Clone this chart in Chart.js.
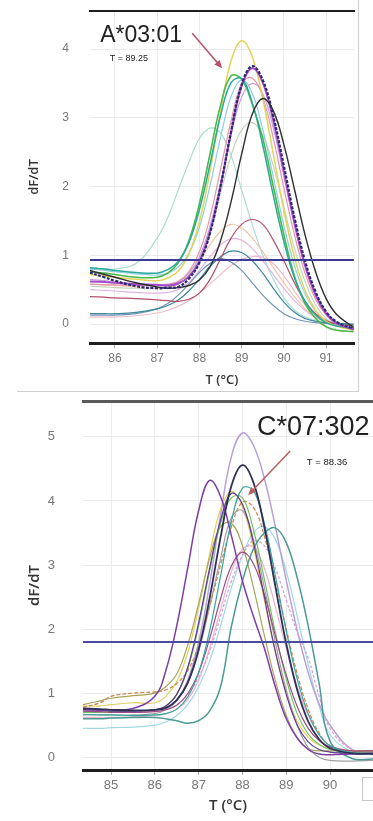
<!DOCTYPE html>
<html>
<head>
<meta charset="utf-8">
<script src="https://cdn.jsdelivr.net/npm/chart.js@4"></script>
<style>
  html, body { margin: 0; padding: 0; background: #fff; }
  body { width: 373px; height: 821px; position: relative; overflow: hidden; }
  .frame { position: absolute; left: 17px; top: 0; width: 341px; height: 391px;
           border-right: 1px solid #cfcfcf; border-bottom: 1px solid #cfcfcf; }
  #c1 { position: absolute; left: 0; top: 0; }
  #c2 { position: absolute; left: 0; top: 395px; }
  .stub { position: absolute; left: 362px; top: 777px; width: 14px; height: 22px;
          border: 1px solid #c8c8c8; background: #fff; }
</style>
</head>
<body>
<div class="frame"></div>
<canvas id="c1" width="358" height="392"></canvas>
<canvas id="c2" width="373" height="426"></canvas>
<div class="stub"></div>
<script>
// ---- A*03:01 panel (T in °C, dF/dT) ----
const tempA = [85.4, 85.75, 86, 86.5, 87, 87.25, 87.5, 87.75, 88, 88.25, 88.5, 88.75, 89, 89.25, 89.5, 89.75, 90, 90.25, 90.5, 90.75, 91, 91.25, 91.65];
const a_yellow   = [0.72,0.70,0.68,0.65,0.63,0.67,0.77,1.02,1.49,2.22,3.09,3.83,4.12,3.89,3.28,2.47,1.65,0.97,0.49,0.20,0.04,-0.03,-0.09];
const a_green    = [0.76,0.74,0.72,0.68,0.68,0.74,0.89,1.21,1.75,2.47,3.18,3.61,3.56,3.20,2.70,2.00,1.30,0.70,0.30,0.08,-0.04,-0.09,-0.11];
const a_teal     = [0.82,0.80,0.78,0.75,0.74,0.79,0.91,1.18,1.66,2.32,3.03,3.51,3.57,3.22,2.60,1.87,1.20,0.67,0.33,0.13,0.02,-0.03,-0.06];
const a_ltblue   = [0.80,0.78,0.76,0.73,0.71,0.74,0.83,1.02,1.41,2.01,2.71,3.31,3.55,3.36,2.83,2.14,1.43,0.85,0.44,0.19,0.05,-0.01,-0.05];
const a_purple   = [0.62,0.61,0.60,0.58,0.57,0.56,0.59,0.69,0.91,1.34,2.00,2.79,3.46,3.72,3.51,2.96,2.22,1.47,0.85,0.42,0.15,0.01,-0.08];
const a_navy     = [0.75,0.68,0.63,0.55,0.52,0.53,0.54,0.66,0.89,1.32,2.00,2.80,3.48,3.75,3.55,3.02,2.30,1.55,0.92,0.47,0.18,0.03,-0.07];
const a_pink     = [0.58,0.57,0.57,0.56,0.56,0.57,0.62,0.76,1.05,1.55,2.25,2.95,3.50,3.58,3.30,2.70,1.98,1.30,0.74,0.36,0.13,0.00,-0.08];
const a_ltpurple = [0.65,0.63,0.61,0.58,0.57,0.58,0.62,0.74,0.98,1.42,2.05,2.75,3.30,3.50,3.35,2.85,2.15,1.45,0.86,0.45,0.18,0.03,-0.06];
const a_black    = [0.78,0.72,0.68,0.60,0.54,0.52,0.53,0.56,0.64,0.83,1.21,1.78,2.47,3.05,3.28,3.10,2.61,1.96,1.30,0.76,0.37,0.14,-0.05];
const a_graygrn  = [0.55,0.54,0.53,0.52,0.52,0.54,0.60,0.72,0.95,1.35,1.90,2.45,2.82,2.93,2.75,2.30,1.70,1.10,0.62,0.28,0.08,-0.02,-0.06];
const a_ltteal   = [0.82,0.80,0.80,0.88,1.25,1.55,1.95,2.35,2.70,2.85,2.78,2.45,1.95,1.45,1.00,0.65,0.38,0.20,0.10,0.05,0.03,0.02,0.00];
const a_maroon   = [0.40,0.39,0.38,0.37,0.35,0.34,0.33,0.36,0.45,0.65,0.95,1.25,1.45,1.52,1.45,1.22,0.92,0.60,0.33,0.15,0.05,0.00,-0.03];
const a_peach    = [0.58,0.57,0.56,0.54,0.52,0.53,0.58,0.70,0.90,1.15,1.35,1.45,1.40,1.25,1.05,0.82,0.60,0.40,0.22,0.10,0.03,0.00,-0.02];
const a_lavpink  = [0.50,0.49,0.48,0.46,0.45,0.46,0.50,0.60,0.78,0.98,1.15,1.24,1.22,1.10,0.92,0.72,0.52,0.34,0.20,0.10,0.04,0.00,-0.02];
const a_dkteal   = [0.15,0.15,0.15,0.17,0.22,0.27,0.35,0.48,0.65,0.84,0.98,1.06,1.04,0.92,0.74,0.52,0.32,0.17,0.08,0.04,0.02,0.01,0.00];
const a_bluegray = [0.13,0.13,0.13,0.15,0.22,0.30,0.42,0.58,0.75,0.88,0.95,0.90,0.78,0.60,0.42,0.27,0.15,0.08,0.04,0.02,0.01,0.00,-0.01];
const a_ltpink   = [0.10,0.10,0.10,0.12,0.16,0.20,0.26,0.34,0.45,0.58,0.72,0.85,0.94,0.98,0.97,0.88,0.70,0.48,0.28,0.13,0.05,0.01,-0.02];
const threshA = 0.93;

// ---- C*07:302 panel ----
const tempC = [84.36, 84.75, 85, 85.5, 86, 86.25, 86.5, 86.75, 87, 87.25, 87.5, 87.75, 88, 88.25, 88.5, 88.75, 89, 89.25, 89.5, 89.75, 90, 90.5, 90.98];
const c_lavender = [0.72,0.72,0.72,0.72,0.72,0.76,0.89,1.20,1.79,2.70,3.78,4.70,5.06,4.87,4.35,3.60,2.76,1.98,1.32,0.83,0.50,0.12,0.08];
const c_navy     = [0.76,0.75,0.74,0.73,0.74,0.77,0.89,1.16,1.68,2.48,3.43,4.24,4.56,4.29,3.59,2.67,1.77,1.05,0.56,0.28,0.14,0.06,0.05];
const c_purple   = [0.75,0.74,0.74,0.76,0.95,1.35,2.05,2.95,3.85,4.32,4.07,3.45,2.75,2.20,1.70,1.10,0.60,0.30,0.12,0.05,0.04,0.05,0.06];
const c_teal     = [0.67,0.66,0.66,0.65,0.66,0.68,0.75,0.94,1.32,1.97,2.83,3.69,4.20,4.16,3.65,2.84,1.97,1.22,0.68,0.35,0.18,0.07,0.06];
const c_yellow   = [0.80,0.80,0.82,0.85,0.85,0.95,1.18,1.63,2.33,3.17,3.87,4.15,3.91,3.28,2.45,1.64,1.00,0.56,0.31,0.19,0.13,0.10,0.10];
const c_green    = [0.70,0.70,0.71,0.72,0.74,0.80,0.98,1.38,2.05,2.90,3.65,4.05,4.05,3.55,2.78,1.95,1.22,0.68,0.36,0.20,0.12,0.08,0.08];
const c_tealdip  = [0.60,0.60,0.61,0.62,0.62,0.60,0.57,0.53,0.57,0.72,1.10,2.05,2.75,3.25,3.50,3.58,3.35,2.80,2.05,1.15,0.25,-0.02,-0.03];
const c_ltcyan   = [0.45,0.45,0.46,0.47,0.50,0.55,0.65,0.82,1.10,1.50,2.05,2.65,3.15,3.50,3.60,3.40,2.90,2.20,1.45,0.80,0.35,0.08,0.05];
const c_mauve    = [0.72,0.71,0.70,0.70,0.71,0.74,0.81,0.99,1.32,1.85,2.47,2.99,3.20,3.02,2.54,1.90,1.28,0.79,0.45,0.26,0.16,0.10,0.10];
const c_ltpink   = [0.62,0.62,0.62,0.63,0.65,0.68,0.75,0.90,1.20,1.70,2.30,2.90,3.25,3.28,2.95,2.35,1.70,1.10,0.65,0.35,0.18,0.09,0.08];
const c_brown    = [0.78,0.85,0.95,1.00,1.02,1.05,1.15,1.35,1.75,2.35,3.00,3.60,3.98,3.90,3.45,2.75,2.00,1.30,0.75,0.38,0.18,0.10,0.10];
const c_gray     = [0.66,0.66,0.66,0.66,0.68,0.74,0.88,1.15,1.65,2.35,3.10,3.75,3.85,3.40,2.65,1.80,1.05,0.50,0.15,0.00,-0.05,-0.06,-0.05];
const c_olive    = [0.82,0.88,0.92,0.96,1.00,1.10,1.30,1.75,2.40,3.10,3.60,3.65,3.30,2.65,1.90,1.20,0.65,0.30,0.13,0.10,0.10,0.10,0.10];
const c_dkpurple = [0.74,0.73,0.72,0.72,0.74,0.80,0.98,1.40,2.10,2.95,3.70,4.12,3.95,3.35,2.50,1.65,0.98,0.50,0.24,0.12,0.08,0.06,0.06];
const c_magenta  = [0.70,0.70,0.70,0.71,0.72,0.75,0.82,0.98,1.25,1.65,2.20,2.75,3.15,3.38,3.30,2.95,2.45,1.95,1.55,0.95,0.45,0.12,0.10];
const threshC = 1.8;

// bottom -> top drawing order: [values, colour, width, dash]
const curvesA = [
  [a_ltpink, "#f0bccc"], [a_ltteal, "#a9dcd2"], [a_graygrn, "#c4d4bc"], [a_peach, "#f2c6a6"],
  [a_lavpink, "#e2b6e0"], [a_ltblue, "#8ccfe2"], [a_ltpurple, "#c6a2dc"], [a_bluegray, "#7094b8"],
  [a_dkteal, "#3c8898"], [a_maroon, "#b4506a"], [a_pink, "#e494a8"], [a_yellow, "#e3d35a", 1.5],
  [a_green, "#4cb848", 1.6], [a_teal, "#2aa89a", 1.5], [a_purple, "#a64bc9", 2], [a_black, "#2e2e2e", 1.4],
  [a_navy, "#2a2a72", 2.2, [3, 1.5]]
];
const curvesC = [
  [c_ltcyan, "#9fd9e6"], [c_ltpink, "#ebb2cc"], [c_lavender, "#b9a0d6", 1.5], [c_magenta, "#d8a0d8", 1.3, [3, 2]],
  [c_yellow, "#e3cd62"], [c_olive, "#a9a45c"], [c_gray, "#a0a0a0"], [c_brown, "#c88c56", 1.3, [4, 2]],
  [c_green, "#74c062"], [c_mauve, "#9c4c82"], [c_teal, "#35a59e"], [c_tealdip, "#4c9a94", 1.5],
  [c_dkpurple, "#5e3c8e"], [c_purple, "#7d3fa6", 1.5], [c_navy, "#2f2f58", 1.8]
];

const notes = {
  id: "notes",
  afterDatasetsDraw(chart, args, o) {
    const {ctx, scales: {x, y}} = chart;
    ctx.save();
    o.texts.forEach(t => {
      ctx.font = t.font;
      ctx.fillStyle = "#222";
      ctx.textBaseline = "alphabetic";
      ctx.fillText(t.text, x.getPixelForValue(t.x), y.getPixelForValue(t.y));
    });
    const a = o.arrow;
    const x0 = x.getPixelForValue(a.from[0]), y0 = y.getPixelForValue(a.from[1]);
    const x1 = x.getPixelForValue(a.to[0]), y1 = y.getPixelForValue(a.to[1]);
    const ang = Math.atan2(y1 - y0, x1 - x0);
    ctx.strokeStyle = ctx.fillStyle = a.color;
    ctx.lineWidth = 1.5;
    ctx.beginPath(); ctx.moveTo(x0, y0); ctx.lineTo(x1 - 5 * Math.cos(ang), y1 - 5 * Math.sin(ang)); ctx.stroke();
    ctx.beginPath();
    ctx.moveTo(x1, y1);
    ctx.lineTo(x1 - 8 * Math.cos(ang) + 3.5 * Math.sin(ang), y1 - 8 * Math.sin(ang) - 3.5 * Math.cos(ang));
    ctx.lineTo(x1 - 8 * Math.cos(ang) - 3.5 * Math.sin(ang), y1 - 8 * Math.sin(ang) + 3.5 * Math.cos(ang));
    ctx.closePath(); ctx.fill();
    ctx.restore();
  }
};

function melt(id, temps, curves, thresh, c) {
  const sets = [{
    data: [{x: c.xmin, y: thresh}, {x: c.xmax, y: thresh}],
    borderColor: c.threshColor, borderWidth: 2, pointRadius: 0, xAxisID: "x"
  }];
  curves.slice().reverse().forEach(([vals, color, w, dash]) => sets.push({
    data: temps.map((t, i) => ({x: t, y: vals[i]})),
    borderColor: color, borderWidth: w || 1.2, borderDash: dash || [],
    pointRadius: 0, tension: 0.4, fill: false, xAxisID: "x"
  }));
  const tickFont = {family: "'Liberation Sans', Arial, sans-serif", size: c.tickSize, lineHeight: 0.9};
  const titleFont = {family: "'Open Sans', sans-serif", size: c.titleSize, weight: "600"};
  return new Chart(document.getElementById(id), {
    type: "line",
    data: {datasets: sets},
    plugins: [notes],
    options: {
      responsive: false, animation: false, devicePixelRatio: 1,
      layout: {padding: {left: 0, right: c.padRight, top: 0, bottom: 0}},
      plugins: {legend: {display: false}, tooltip: {enabled: false}, notes: c.notes},
      scales: {
        x: {
          type: "linear", min: c.xmin, max: c.xmax,
          ticks: {stepSize: 1, includeBounds: false, color: "#777", font: tickFont, padding: 5},
          grid: {color: "#ebebeb", tickLength: 5, tickColor: "#aaa"},
          border: {display: true, color: "#1e1e1e", width: 3},
          title: {display: true, text: "T (°C)", color: "#333", font: titleFont, padding: {top: 0, bottom: c.xTitlePad}},
          afterFit: s => { s.height = c.xh; }
        },
        xTop: {
          type: "linear", position: "top", min: c.xmin, max: c.xmax,
          ticks: {display: false},
          grid: {drawOnChartArea: false, drawTicks: false},
          border: {display: true, color: c.topColor, width: c.topWidth},
          afterFit: s => { s.height = c.topH; }
        },
        y: {
          min: c.ymin, max: c.ymax,
          ticks: {stepSize: 1, includeBounds: false, color: "#777", font: tickFont, padding: c.yPad},
          grid: {color: "#ebebeb", drawTicks: true, tickLength: c.yTick, tickColor: "rgba(0,0,0,0)"},
          border: {display: false},
          title: {display: true, text: "dF/dT", color: "#333", font: titleFont, padding: {top: 26, bottom: 0}},
          afterFit: s => { s.width = c.yw; }
        }
      }
    }
  });
}

melt("c1", tempA, curvesA, threshA, {
  xmin: 85.41, xmax: 91.66, ymin: -0.276, ymax: 4.553,
  xh: 49, topH: 11, yw: 90, padRight: 4, yPad: 4, yTick: 17, xTitlePad: 4,
  tickSize: 12, titleSize: 13, topColor: "#1e1e1e", topWidth: 2, threshColor: "#3c3c96",
  notes: {
    texts: [
      {text: "A*03:01", x: 85.65, y: 4.10, font: "23px 'Liberation Sans', Arial, sans-serif"},
      {text: "T = 89.25", x: 85.88, y: 3.83, font: "9px 'Liberation Sans', Arial, sans-serif"}
    ],
    arrow: {from: [87.83, 4.23], to: [88.54, 3.72], color: "#b5506a"}
  }
});

melt("c2", tempC, curvesC, threshC, {
  xmin: 84.36, xmax: 90.98, ymin: -0.2, ymax: 5.56,
  xh: 51, topH: 6, yw: 83, padRight: 0, yPad: 0, yTick: 28, xTitlePad: 6,
  tickSize: 13, titleSize: 15, topColor: "#5a5a5a", topWidth: 3, threshColor: "#4a4aa0",
  notes: {
    texts: [
      {text: "C*07:302", x: 88.33, y: 5.03, font: "27px 'Liberation Sans', Arial, sans-serif"},
      {text: "T = 88.36", x: 89.47, y: 4.56, font: "9.5px 'Liberation Sans', Arial, sans-serif"}
    ],
    arrow: {from: [89.09, 4.78], to: [88.13, 4.09], color: "#b86060"}
  }
});
</script>
</body>
</html>
